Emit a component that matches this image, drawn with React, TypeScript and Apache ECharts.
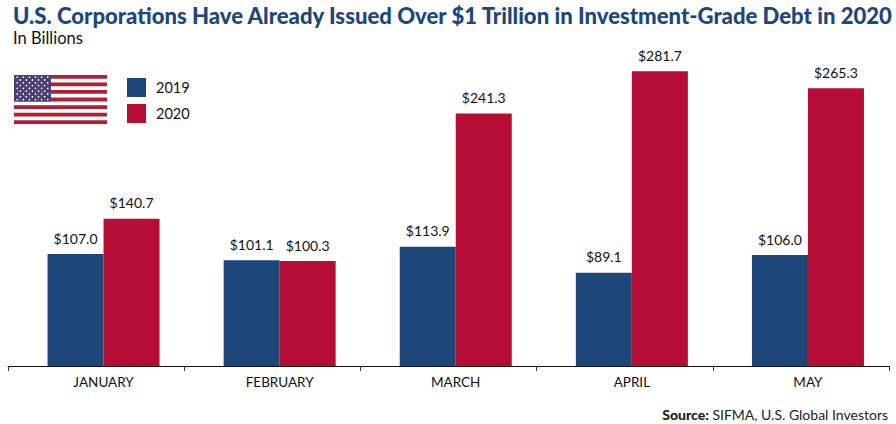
import React, { useEffect, useRef } from "react";
import * as echarts from "echarts";

const categories = ["JANUARY", "FEBRUARY", "MARCH", "APRIL", "MAY"];
const values2019 = [107.0, 101.1, 113.9, 89.1, 106.0];
const values2020 = [140.7, 100.3, 241.3, 281.7, 265.3];
const titleText = "U.S. Corporations Have Already Issued Over $1 Trillion in Investment-Grade Debt in 2020";
const subtitleText = "In Billions";
const BLUE = "#1d4679";
const RED = "#b50d35";
const FONT = "Lato";

function flagGraphics() {
  const x0 = 14, y0 = 75, w = 93, sh = 49 / 13;
  const children: any[] = [];
  for (let i = 0; i < 13; i += 2) {
    children.push({ type: "rect", silent: true, shape: { x: x0, y: y0 + i * sh, width: w, height: sh }, style: { fill: "#ae2035" } });
  }
  children.push({ type: "rect", silent: true, shape: { x: x0, y: y0, width: 37, height: 7 * sh }, style: { fill: "#4a3f78" } });
  for (let r = 0; r < 9; r++) {
    const odd = r % 2 === 1;
    const n = odd ? 5 : 6;
    for (let c = 0; c < n; c++) {
      children.push({
        type: "circle", silent: true,
        shape: { cx: x0 + 3.2 + (odd ? 3 : 0) + c * 6.1, cy: y0 + 2.2 + r * 2.8, r: 0.8 },
        style: { fill: "#ffffff" },
      });
    }
  }
  return children;
}

export default function App() {
  const ref = useRef<HTMLDivElement>(null);
  useEffect(() => {
    document.body.style.margin = "0";
    const chart = echarts.init(ref.current!, undefined, { renderer: "svg" });
    const label = {
      show: true, position: "top" as const, distance: 9,
      fontFamily: FONT, fontSize: 14, color: "#111",
      formatter: (p: any) => "$" + Number(p.value).toFixed(1),
    };
    chart.setOption({
      animation: false,
      backgroundColor: "#ffffff",
      title: [
        { text: titleText, left: 8, top: -1, textStyle: { fontFamily: FONT, fontWeight: 900, fontSize: 22.1, color: BLUE } },
        { text: subtitleText, left: 8, top: 24, textStyle: { fontFamily: FONT, fontWeight: 400, fontSize: 16.5, color: "#111" } },
        {
          text: "{b|Source:} SIFMA, U.S. Global Investors", right: 3, top: 402,
          textStyle: {
            fontFamily: FONT, fontSize: 14, fontWeight: 400, color: "#222",
            rich: { b: { fontFamily: FONT, fontSize: 14, fontWeight: 900, color: "#222" } },
          },
        },
      ],
      legend: {
        left: 122, top: 73, orient: "vertical", itemWidth: 19, itemHeight: 19, itemGap: 7,
        icon: "rect", data: ["2019", "2020"],
        textStyle: { fontFamily: FONT, fontSize: 14.5, color: "#111", padding: [0, 0, 0, 5] },
      },
      grid: [
        { left: 15.5, top: 52, width: 884, height: 314 },
        { left: 8, top: 52, width: 881, height: 314 },
      ],
      xAxis: [
        {
          type: "category", gridIndex: 0, data: categories,
          axisLine: { show: false }, axisTick: { show: false },
          axisLabel: { fontFamily: FONT, fontSize: 13.5, color: "#111", margin: 9 },
        },
        {
          type: "category", gridIndex: 1, data: categories,
          axisLine: { show: true, lineStyle: { color: "#111", width: 1 } },
          axisTick: { show: true, alignWithLabel: false, inside: false, length: 5, lineStyle: { color: "#333" } },
          axisLabel: { show: false },
        },
      ],
      yAxis: [
        { type: "value", gridIndex: 0, min: 0, max: 300, show: false },
        { type: "value", gridIndex: 1, min: 0, max: 300, show: false },
      ],
      series: [
        { name: "2019", type: "bar", data: values2019, xAxisIndex: 0, yAxisIndex: 0, barWidth: 56, barGap: "0%", itemStyle: { color: BLUE }, label },
        { name: "2020", type: "bar", data: values2020, xAxisIndex: 0, yAxisIndex: 0, barWidth: 56, barGap: "0%", itemStyle: { color: RED }, label },
      ],
      graphic: [{ type: "group", silent: true, children: flagGraphics() }],
    });
    return () => chart.dispose();
  }, []);
  return <div ref={ref} style={{ width: 896, height: 424 }} />;
}
